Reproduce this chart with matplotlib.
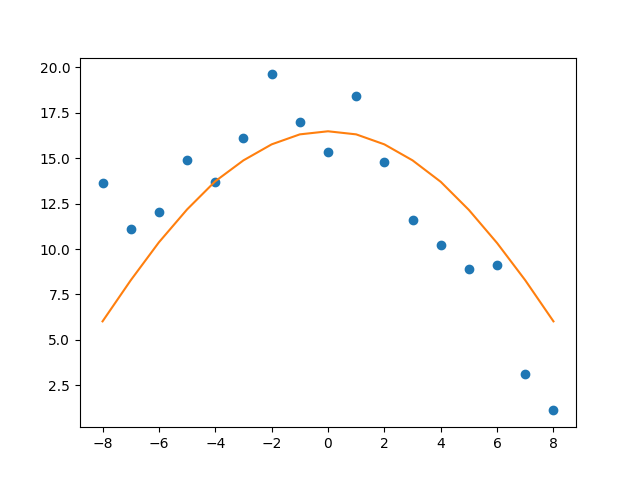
import numpy as np
import matplotlib
matplotlib.use("Agg")
import matplotlib.pyplot as plt

# values
x = [-8, -7, -6, -5, -4, -3, -2, -1, 0, 1, 2, 3, 4, 5, 6, 7, 8]
y_obs = [13.62, 11.08, 12.02, 14.88, 13.67, 16.09, 19.61, 16.97, 15.32,
         18.4, 14.77, 11.58, 10.2, 8.88, 9.1, 3.1, 1.12]
y_fit = [6.02, 8.28, 10.37, 12.18, 13.73, 14.88, 15.76, 16.31, 16.48,
         16.31, 15.76, 14.88, 13.7, 12.15, 10.33, 8.28, 6.02]

fig, ax = plt.subplots(figsize=(6.4, 4.8), dpi=100)
ax.scatter(x, y_obs)
ax.plot(x, y_fit, color="C1")
fig.savefig("out.png")
